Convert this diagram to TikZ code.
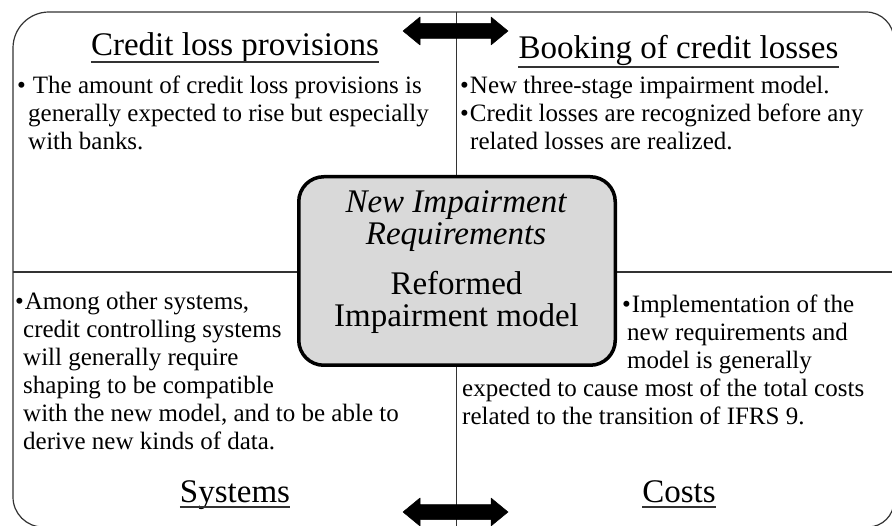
\documentclass[tikz,border=0pt]{standalone}
\usepackage{fontspec}
\setmainfont{Liberation Serif}
\definecolor{boxgray}{HTML}{D9D9D9}
\definecolor{framegray}{HTML}{333333}
\begin{document}
\begin{tikzpicture}[x=1pt,y=-1pt,
  body/.style={anchor=base west, inner sep=0pt, font=\fontsize{25}{28}\selectfont},
  titletext/.style={anchor=base, inner sep=0pt, font=\fontsize{33}{38}\selectfont},
  ctext/.style={anchor=base, inner sep=0pt, font=\fontsize{33}{38}\selectfont},
  uline/.style={line width=1.4pt, draw=framegray},
  frame/.style={line width=1.2pt, draw=framegray},
  blockarrow/.style={fill=black, draw=black, line width=0.5pt, line join=round}]
\useasboundingbox (0,0) rectangle (892,526);

% outer frame
\draw[frame] (49,12) -- (866,12) arc[start angle=270,end angle=360,radius=28]
  -- (894,501) arc[start angle=0,end angle=90,radius=26]
  -- (43,527) arc[start angle=90,end angle=180,radius=30]
  -- (13,48) arc[start angle=180,end angle=270,radius=36] -- cycle;

% cross lines
\coordinate (vtop) at (456.5,12);
\coordinate (vbot) at (456.5,527);
\coordinate (hleft) at (13,272);
\coordinate (hright) at (894,272);
\draw[frame] (vtop) -- (vbot);
\draw[frame] (hleft) -- (hright);

% centre box
\node[draw=black, line width=3.5pt, fill=boxgray, rounded corners=25pt,
      minimum width=316.5pt, minimum height=188.5pt, inner sep=0pt] (center) at (457,271) {};
\node[ctext, font=\fontsize{33}{38}\selectfont\itshape] (c1) at (456,213) {New Impairment};
\node[ctext, font=\fontsize{33}{38}\selectfont\itshape] (c2) at (456,245) {Requirements};
\node[ctext] (c3) at (456.5,295) {Reformed};
\node[ctext] (c4) at (456.5,327) {Impairment model};

% block arrows
\fill[blockarrow] (403,31) -- (420,17) -- (420,23.5) -- (491,23.5) -- (491,17) -- (508,31)
  -- (491,45) -- (491,38.5) -- (420,38.5) -- (420,45) -- cycle;
\fill[blockarrow] (403,512) -- (420,498) -- (420,504.5) -- (491,504.5) -- (491,498) -- (508,512)
  -- (491,526) -- (491,519.5) -- (420,519.5) -- (420,526) -- cycle;

% titles
\node[titletext] (t1) at (235,56) {Credit loss provisions};
\draw[uline] ([yshift=-6pt]t1.base west) -- ([yshift=-6pt]t1.base east);
\node[titletext] (t2) at (678.5,59) {Booking of credit losses};
\draw[uline] ([yshift=-8pt]t2.base west) -- ([yshift=-8pt]t2.base east);
\node[titletext] (t3) at (235,502) {Systems};
\draw[uline] ([yshift=-5pt]t3.base west) -- ([yshift=-5pt]t3.base east);
\node[titletext] (t4) at (679,502) {Costs};
\draw[uline] ([yshift=-5pt]t4.base west) -- ([yshift=-5pt]t4.base east);

% top left text
\node[body] (a1) at (17,94) {•\hspace{7pt}The amount of credit loss provisions is};
\node[body] (a2) at (28,122) {generally expected to rise but especially};
\node[body] (a3) at (28,150) {with banks.};

% top right text
\node[body] (b1) at (460,94) {•\hspace{1pt}New three-stage impairment model.};
\node[body] (b2) at (460,122) {•\hspace{1pt}Credit losses are recognized before any};
\node[body] (b3) at (470,150) {related losses are realized.};

% bottom left text
\node[body] (s1) at (15,310) {•\hspace{1pt}Among other systems,};
\node[body] (s2) at (23,338) {credit controlling systems};
\node[body] (s3) at (23,366) {will generally require};
\node[body] (s4) at (23,394) {shaping to be compatible};
\node[body] (s5) at (23,422) {with the new model, and to be able to};
\node[body] (s6) at (23,450) {derive new kinds of data.};

% bottom right text
\node[body] (k1) at (622,313) {•\hspace{1pt}Implementation of the};
\node[body] (k2) at (627,341) {new requirements and};
\node[body] (k3) at (627,369) {model is generally};
\node[body] (k4) at (462,397) {expected to cause most of the total costs};
\node[body] (k5) at (462,425) {related to the transition of IFRS 9.};
\end{tikzpicture}
\end{document}
